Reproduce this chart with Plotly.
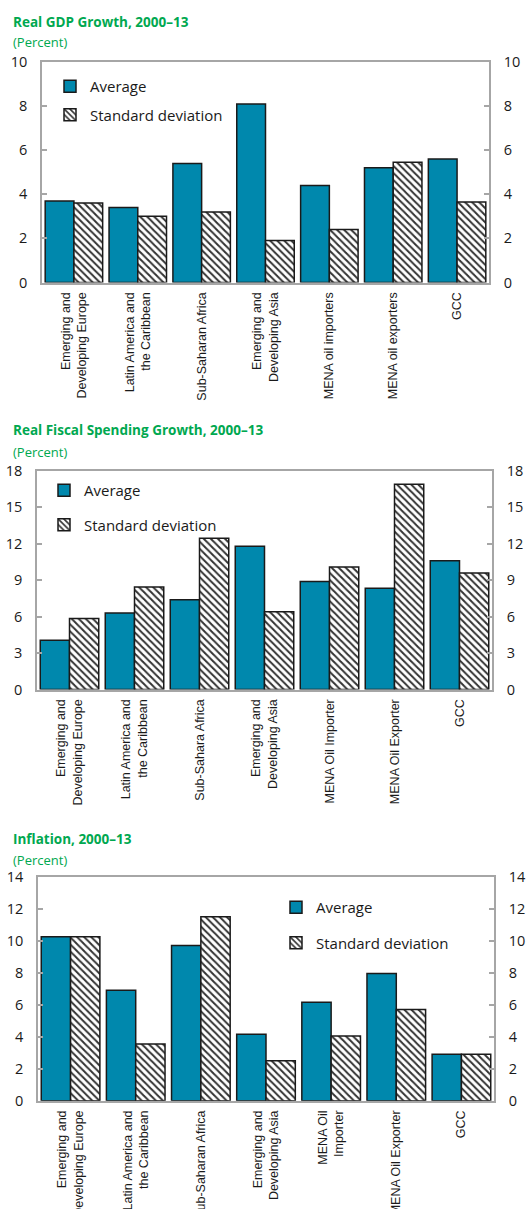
import plotly.graph_objects as go

# ---------------- data ----------------
gdp_categories = ["Emerging and<br>Developing Europe", "Latin America and<br>the Caribbean",
                  "Sub-Saharan Africa", "Emerging and<br>Developing Asia",
                  "MENA oil importers", "MENA oil exporters", "GCC"]
gdp_average = [3.7, 3.4, 5.4, 8.1, 4.4, 5.2, 5.6]
gdp_std = [3.6, 3.0, 3.2, 1.9, 2.4, 5.45, 3.65]

spend_categories = ["Emerging and<br>Developing Europe", "Latin America and<br>the Caribbean",
                    "Sub-Sahara Africa", "Emerging and<br>Developing Asia",
                    "MENA Oil Importer", "MENA Oil Exporter", "GCC"]
spend_average = [4.05, 6.3, 7.4, 11.8, 8.9, 8.35, 10.6]
spend_std = [5.85, 8.45, 12.45, 6.4, 10.1, 16.9, 9.6]

infl_categories = ["Emerging and<br>Developing Europe", "Latin America and<br>the Caribbean",
                   "Sub-Saharan Africa", "Emerging and<br>Developing Asia",
                   "MENA Oil<br>Importer", "MENA Oil Exporter", "GCC"]
infl_average = [10.25, 6.9, 9.7, 4.15, 6.15, 7.95, 2.9]
infl_std = [10.25, 3.55, 11.5, 2.5, 4.05, 5.7, 2.9]

titles = ["Real GDP Growth, 2000\u201313", "Real Fiscal Spending Growth, 2000\u201313", "Inflation, 2000\u201313"]
unit_label = "(Percent)"
y_max = [10, 18, 14]
y_step = [2, 3, 2]

# ---------------- layout geometry (window pixels) ----------------
W, H = 529, 1209
plot_boxes = [  # left, right, top, bottom (window px)
    (42, 489, 62, 282.5),
    (37, 492, 471, 689.5),
    (38, 494, 876.7, 1100.7),
]
title_y = [(21.5, 41.5), (430.5, 451.5), (839.5, 859.5)]
legend_pos = [(50, 70, 6), (44, 474, 12), (276, 891, 13)]  # left px, top px, gap


def px_x(v):
    return v / W


def px_y(v):
    return 1 - v / H


AVG_COLOR = "#0088AD"
GRID_GRAY = "#A6A6A6"
GREEN = "#00A850"
TEXT = "#1a1a1a"
FONT = "Open Sans, Noto Sans, sans-serif"
NARROW = "Liberation Sans, Arial, sans-serif"

panels = [
    (gdp_categories, gdp_average, gdp_std),
    (spend_categories, spend_average, spend_std),
    (infl_categories, infl_average, infl_std),
]

fig = go.Figure()
layout = dict(
    template="none",
    width=W, height=H, margin=dict(l=0, r=0, t=0, b=0, autoexpand=False),
    paper_bgcolor="white", plot_bgcolor="white",
    barmode="group", bargap=0.1, bargroupgap=0,
    font=dict(family=FONT, size=14, color=TEXT),
    annotations=[],
)

for i, (cats, avg, sd) in enumerate(panels):
    n = i + 1
    xa = "x" if n == 1 else f"x{n}"
    ya = "y" if n == 1 else f"y{n}"
    yr = f"y{n + 3}"
    leg = "legend" if n == 1 else f"legend{n}"
    l, r, t, b = plot_boxes[i]
    xdom = [px_x(l), px_x(r)]
    ydom = [px_y(b), px_y(t)]

    fig.add_trace(go.Bar(
        x=cats, y=avg, name="Average", xaxis=xa, yaxis=ya, legend=leg,
        legendgroup=f"avg{n}",
        marker=dict(color=AVG_COLOR, line=dict(color="#1a1a1a", width=1.5)),
    ))
    fig.add_trace(go.Bar(
        x=cats, y=sd, name="Standard deviation", xaxis=xa, yaxis=ya, legend=leg,
        legendgroup=f"sd{n}",
        marker=dict(color="white",
                    pattern=dict(shape="\\", fgcolor="#333333", bgcolor="white",
                                 size=5, solidity=0.4),
                    line=dict(color="#1a1a1a", width=1.5)),
    ))
    # invisible helper so that the right-hand axis is drawn
    fig.add_trace(go.Scatter(
        x=cats, y=avg, xaxis=xa, yaxis=yr, mode="markers",
        marker=dict(opacity=0), showlegend=False, hoverinfo="skip",
    ))

    xkey = "xaxis" if n == 1 else f"xaxis{n}"
    ykey = "yaxis" if n == 1 else f"yaxis{n}"
    yrkey = f"yaxis{n + 3}"
    layout[xkey] = dict(
        domain=xdom, anchor=ya, type="category", showline=True, linecolor=GRID_GRAY,
        linewidth=1.5, mirror=True, ticks="", showgrid=False, tickangle=-90,
        tickfont=dict(family=NARROW, size=12.5, color=TEXT), fixedrange=True,
        automargin=False, zeroline=False, ticklabelstandoff=3,
    )
    yaxis_common = dict(
        range=[0, y_max[i]], dtick=y_step[i], tick0=0, showline=True, linecolor=GRID_GRAY,
        linewidth=1.5, ticks="inside", ticklen=5, tickcolor=GRID_GRAY, tickwidth=1.5,
        showgrid=False, zeroline=False, tickfont=dict(family=FONT, size=14.5, color=TEXT),
        ticklabelstandoff=10, fixedrange=True, automargin=False,
    )
    layout[ykey] = dict(domain=ydom, anchor=xa, side="left", **yaxis_common)
    layout[yrkey] = dict(overlaying=ya, anchor=xa, side="right", **yaxis_common)

    lx, ly, gap = legend_pos[i]
    layout[leg] = dict(
        x=px_x(lx), y=px_y(ly), xanchor="left", yanchor="top", bgcolor="rgba(0,0,0,0)",
        font=dict(family=FONT, size=15, color=TEXT), traceorder="grouped",
        tracegroupgap=gap, itemclick=False, itemdoubleclick=False, borderwidth=0,
    )

    ty1, ty2 = title_y[i]
    layout["annotations"].append(dict(
        text=f"<b>{titles[i]}</b>", x=px_x(11), y=px_y(ty1), xref="paper", yref="paper",
        xanchor="left", yanchor="middle", showarrow=False,
        font=dict(family=FONT, size=13.5, color=GREEN),
    ))
    layout["annotations"].append(dict(
        text=unit_label, x=px_x(11), y=px_y(ty2), xref="paper", yref="paper",
        xanchor="left", yanchor="middle", showarrow=False,
        font=dict(family=FONT, size=13, color=GREEN),
    ))

fig.update_layout(**layout)
fig.write_html(
    "out.html",
    config={"displayModeBar": False},
    post_script="document.body.style.margin='0px';document.body.style.padding='0px';",
)
